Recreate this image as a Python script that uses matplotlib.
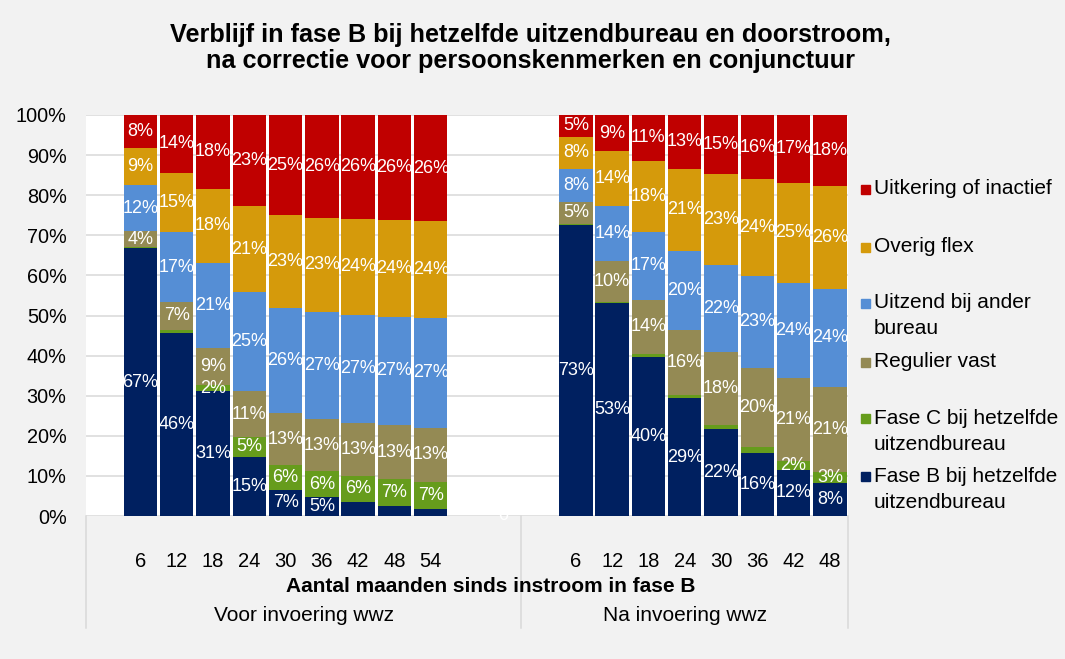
import numpy as np
import matplotlib.pyplot as plt
from matplotlib.patches import Rectangle

plt.rcParams['font.family'] = ['Liberation Sans', 'DejaVu Sans']

# months since inflow in fase B, per period
maanden_voor = [6, 12, 18, 24, 30, 36, 42, 48, 54]
maanden_na = [6, 12, 18, 24, 30, 36, 42, 48]

# shares (%) before the WWZ, bottom to top
fase_b_voor = [66.9, 45.6, 31.0, 14.8, 6.6, 4.8, 3.6, 2.6, 1.7]
fase_c_voor = [0.2, 0.9, 1.6, 4.9, 6.2, 6.3, 6.4, 6.6, 6.8]
regulier_voor = [4.0, 6.8, 9.1, 11.4, 12.8, 13.1, 13.2, 13.4, 13.4]
uitzend_voor = [11.6, 17.4, 21.3, 24.7, 26.3, 26.7, 26.9, 27.2, 27.4]
overig_voor = [9.2, 14.9, 18.4, 21.4, 23.2, 23.4, 23.9, 24.0, 24.0]
uitkering_voor = [8.3, 14.4, 18.4, 22.7, 25.0, 25.6, 25.9, 26.3, 26.4]

# shares (%) after the WWZ
fase_b_na = [72.6, 53.0, 39.7, 29.4, 21.6, 15.6, 11.6, 8.2]
fase_c_na = [0.3, 0.4, 0.7, 0.8, 1.1, 1.7, 2.1, 2.7]
regulier_na = [5.4, 10.1, 13.6, 16.3, 18.3, 19.7, 20.7, 21.3]
uitzend_na = [8.3, 13.7, 17.0, 19.6, 21.6, 22.9, 23.9, 24.4]
overig_na = [8.0, 13.7, 17.7, 20.6, 22.7, 24.1, 25.0, 25.7]
uitkering_na = [5.4, 9.0, 11.4, 13.4, 14.8, 16.0, 17.0, 17.7]

series_labels = [
    ["Fase B bij hetzelfde", "uitzendbureau"],
    ["Fase C bij hetzelfde", "uitzendbureau"],
    ["Regulier vast"],
    ["Uitzend bij ander", "bureau"],
    ["Overig flex"],
    ["Uitkering of inactief"],
]
colors = ['#002060', '#669C1C', '#948A54', '#558ED5', '#D59A0B', '#C00000']

# data labels that are not shown in the original: (series index, bar index)
hidden_voor = [(1, 0), (1, 1), (0, 6), (0, 7), (0, 8)]
hidden_na = [(1, 0), (1, 1), (1, 2), (1, 3), (1, 4), (1, 5)]

groups = [
    ("Voor invoering wwz", maanden_voor,
     [fase_b_voor, fase_c_voor, regulier_voor, uitzend_voor, overig_voor, uitkering_voor],
     np.arange(1, 10), hidden_voor),
    ("Na invoering wwz", maanden_na,
     [fase_b_na, fase_c_na, regulier_na, uitzend_na, overig_na, uitkering_na],
     np.arange(13, 21), hidden_na),
]

W, H = 1065, 659
fig = plt.figure(figsize=(W / 100, H / 100), dpi=100, facecolor='#F2F2F2')
ax = fig.add_axes([86 / W, 1 - 516 / H, (848 - 86) / W, (516 - 115) / H])
ax.set_facecolor('white')

ticks, ticklabels = [], []
for name, months, data, xs, hidden in groups:
    vals = np.array(data, dtype=float)
    vals = vals / vals.sum(axis=0) * 100
    bottom = np.zeros(vals.shape[1])
    for i, row in enumerate(vals):
        ax.bar(xs, row, bottom=bottom, width=0.92, color=colors[i], linewidth=0, zorder=2)
        for j, v in enumerate(row):
            if (i, j) in hidden:
                continue
            ax.text(xs[j], bottom[j] + v / 2, f"{v:.0f}%", color='white',
                    ha='center', va='center', fontsize=13, zorder=3)
        bottom += row
    ticks += list(xs)
    ticklabels += [str(m) for m in months]

# stray zero label of the empty category
ax.text(11, 0, "0", color='white', ha='center', va='center', fontsize=13, zorder=3, clip_on=False)

ax.set_xlim(-0.5, 20.5)
ax.set_ylim(0, 100)
ax.set_yticks(np.arange(0, 101, 10), [f"{t}%" for t in range(0, 101, 10)])
ax.set_xticks(ticks, ticklabels)
ax.tick_params(axis='y', length=0, pad=14, labelsize=14.3, colors='#000000')
ax.tick_params(axis='x', length=0, pad=26, labelsize=14.5, colors='#000000')
ax.yaxis.grid(True, color='#D9D9D9', linewidth=1.1, zorder=0)
ax.set_axisbelow(True)
for s in ax.spines.values():
    s.set_visible(False)

# multi-level category axis
xt = ax.get_xaxis_transform()
for xb in [-0.5, 11.5, 20.5]:
    ax.plot([xb, xb], [0, -0.279], transform=xt, color='#D9D9D9', lw=1.1, clip_on=False)
ax.text(5.5, -0.249, groups[0][0], transform=xt, ha='center', va='center', fontsize=15)
ax.text(16, -0.249, groups[1][0], transform=xt, ha='center', va='center', fontsize=15)
ax.text((491 - 86) / 762, -0.177, "Aantal maanden sinds instroom in fase B",
        transform=ax.transAxes, ha='center', va='center', fontsize=15, fontweight='bold')

# title
fig.text(531 / W, 1 - 42 / H, "Verblijf in fase B bij hetzelfde uitzendbureau en doorstroom,",
         ha='center', va='baseline', fontsize=18.2, fontweight='bold')
fig.text(531 / W, 1 - 68 / H, "na correctie voor persoonskenmerken en conjunctuur",
         ha='center', va='baseline', fontsize=18.2, fontweight='bold')

# legend, top to bottom
legend_y = [189, 247, 303, 362, 418, 476]
for k, idx in enumerate([5, 4, 3, 2, 1, 0]):
    y = legend_y[k]
    fig.add_artist(Rectangle((861 / W, 1 - (y + 4.5) / H), 9 / W, 9 / H,
                             transform=fig.transFigure, color=colors[idx]))
    for n, line in enumerate(series_labels[idx]):
        fig.text(874 / W, 1 - (y + 26 * n) / H, line, ha='left', va='center', fontsize=15)

fig.savefig('out.png', dpi=100, facecolor=fig.get_facecolor())
